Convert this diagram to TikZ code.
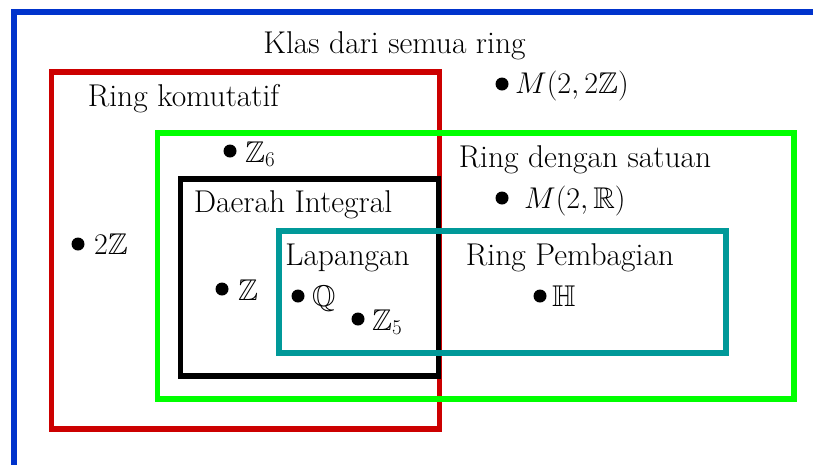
\RequirePackage{fix-cm}
\documentclass[tikz,border=0pt]{standalone}
\usepackage{amssymb}
\definecolor{cblue}{RGB}{0,51,204}
\definecolor{cred}{RGB}{204,0,0}
\definecolor{cgreen}{RGB}{0,255,0}
\definecolor{cteal}{RGB}{0,153,153}
\begin{document}
\begin{tikzpicture}[x=1pt,y=-1pt,
  box/.style={line width=5.5pt},
  lbl/.style={anchor=base,inner sep=0pt,font=\fontsize{31.5}{37}\selectfont},
  mlbl/.style={anchor=base west,inner sep=0pt,font=\fontsize{30}{36}\selectfont},
  dot/.style={circle,fill=black,inner sep=0pt,minimum size=13pt}]
\useasboundingbox (0,0) rectangle (813,464);
% boxes
\draw[box,cblue] (14,12) rectangle (900,560);
\draw[box,cred] (51.5,72) rectangle (439.5,429);
\draw[box,cgreen] (157.5,133) rectangle (794,399);
\draw[box,black] (180.5,179) rectangle (438.5,376);
\draw[box,cteal] (279,231) rectangle (726,353);
% titles
\node[lbl] (tall) at (394.5,53) {Klas dari semua ring};
\node[lbl] (tkom) at (183.5,106) {Ring komutatif};
\node[lbl] (tsat) at (585,167) {Ring dengan satuan};
\node[lbl] (tint) at (293,212) {Daerah Integral};
\node[lbl] (tlap) at (347.5,265) {Lapangan};
\node[lbl] (tpem) at (570,265) {Ring Pembagian};
% elements
\node[dot] (d1) at (502,84) {};
\node[mlbl] (e1) at (515,93) {$M(2,2\mathbb{Z})$};
\node[dot] (d2) at (502,198) {};
\node[mlbl] (e2) at (524,208) {$M(2,\mathbb{R})$};
\node[dot] (d3) at (230,151) {};
\node[mlbl] (e3) at (245,162) {$\mathbb{Z}_6$};
\node[dot] (d4) at (78,244) {};
\node[mlbl] (e4) at (94,254) {$2\mathbb{Z}$};
\node[dot] (d5) at (222,289) {};
\node[mlbl] (e5) at (238,300) {$\mathbb{Z}$};
\node[dot] (d6) at (298,296) {};
\node[mlbl] (e6) at (312,306) {$\mathbb{Q}$};
\node[dot] (d7) at (358,319) {};
\node[mlbl] (e7) at (372,330) {$\mathbb{Z}_5$};
\node[dot] (d8) at (540,296) {};
\node[mlbl] (e8) at (552,306) {$\mathbb{H}$};
\end{tikzpicture}
\end{document}
